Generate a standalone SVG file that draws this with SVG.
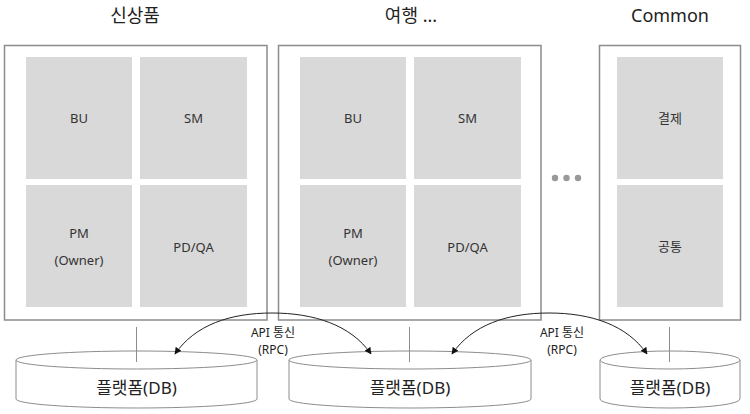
<svg xmlns="http://www.w3.org/2000/svg" width="750" height="414" viewBox="0 0 750 414">
<style>
text{font-family:"Noto Sans","Noto Sans CJK KR",sans-serif;fill:#333;text-anchor:middle}
.title{font-size:18px;fill:#222}
.cell{font-size:13px}
.db{font-size:17px;fill:#222}
.lbl{font-size:12px;fill:#222}
.box{fill:#fff;stroke:#8c8c8c;stroke-width:1.5}
.c{fill:#d9d9d9}
.cyl{fill:#fff;stroke:#8c8c8c;stroke-width:1}
.ln{stroke:#8c8c8c;stroke-width:1;fill:none}
.arc{stroke:#222;stroke-width:1;fill:none;marker-end:url(#ah)}
</style>
<defs>
<marker id="ah" viewBox="0 0 10 10" refX="9" refY="5" markerWidth="7" markerHeight="7" markerUnits="userSpaceOnUse" orient="auto">
<path d="M0,0L10,5L0,10z" fill="#111"/>
</marker>
</defs>
<rect width="750" height="414" fill="#fff"/>

<g id="group-new">
<text class="title" x="135" y="22">신상품</text>
<rect class="box" x="4.5" y="45.5" width="262.5" height="274.5"/>
<rect class="c" x="26" y="57" width="106" height="122"/>
<rect class="c" x="140" y="57" width="107" height="122"/>
<rect class="c" x="26" y="185" width="106" height="122"/>
<rect class="c" x="140" y="185" width="107" height="122"/>
<text class="cell" x="79" y="123">BU</text>
<text class="cell" x="193.5" y="123">SM</text>
<text class="cell" x="79" y="238">PM</text>
<text class="cell" x="79" y="265">(Owner)</text>
<text class="cell" x="193.5" y="252">PD/QA</text>
</g>

<g id="group-travel">
<text class="title" x="411" y="22">여행 ...</text>
<rect class="box" x="278.5" y="45.5" width="262.5" height="274.5"/>
<rect class="c" x="300" y="57" width="106" height="122"/>
<rect class="c" x="414" y="57" width="107" height="122"/>
<rect class="c" x="300" y="185" width="106" height="122"/>
<rect class="c" x="414" y="185" width="107" height="122"/>
<text class="cell" x="353" y="123">BU</text>
<text class="cell" x="467.5" y="123">SM</text>
<text class="cell" x="353" y="238">PM</text>
<text class="cell" x="353" y="265">(Owner)</text>
<text class="cell" x="467.5" y="252">PD/QA</text>
</g>

<g id="ellipsis">
<circle cx="555" cy="178" r="3.2" fill="#999"/>
<circle cx="566.5" cy="178" r="3.2" fill="#999"/>
<circle cx="578" cy="178" r="3.2" fill="#999"/>
</g>

<g id="group-common">
<text class="title" x="670" y="22">Common</text>
<rect class="box" x="599.5" y="45.5" width="141" height="274.5"/>
<rect class="c" x="617" y="57" width="106" height="122"/>
<rect class="c" x="617" y="185" width="106" height="122"/>
<text class="cell" x="670" y="123">결제</text>
<text class="cell" x="670" y="251">공통</text>
</g>

<g id="db1">
<path class="cyl" d="M16,360 A120.5,9 0 0 1 257,360 L257,399 A120.5,9 0 0 1 16,399 Z"/>
<path class="cyl" d="M16,360 A120.5,9 0 0 0 257,360"/>
<text class="db" x="136.5" y="394">플랫폼(DB)</text>
</g>
<g id="db2">
<path class="cyl" d="M289,360 A121,9 0 0 1 531,360 L531,399 A121,9 0 0 1 289,399 Z"/>
<path class="cyl" d="M289,360 A121,9 0 0 0 531,360"/>
<text class="db" x="410" y="394">플랫폼(DB)</text>
</g>
<g id="db3">
<path class="cyl" d="M600,360 A70,9 0 0 1 740,360 L740,399 A70,9 0 0 1 600,399 Z"/>
<path class="cyl" d="M600,360 A70,9 0 0 0 740,360"/>
<text class="db" x="670" y="394">플랫폼(DB)</text>
</g>

<g id="connectors">
<line class="ln" x1="136.5" y1="327" x2="136.5" y2="362"/>
<line class="ln" x1="409.5" y1="327" x2="409.5" y2="362"/>
<line class="ln" x1="669.5" y1="327" x2="669.5" y2="362"/>
<path class="arc" d="M272,313 C230,313 195,325 175,354"/>
<path class="arc" d="M272,313 C314,313 351,325 371,354"/>
<path class="arc" d="M549,313 C507,313 472,325 452,354"/>
<path class="arc" d="M549,313 C591,313 627,325 647,354"/>
<text class="lbl" x="273" y="337">API 통신</text>
<text class="lbl" x="273" y="354">(RPC)</text>
<text class="lbl" x="562" y="337">API 통신</text>
<text class="lbl" x="562" y="354">(RPC)</text>
</g>
</svg>
